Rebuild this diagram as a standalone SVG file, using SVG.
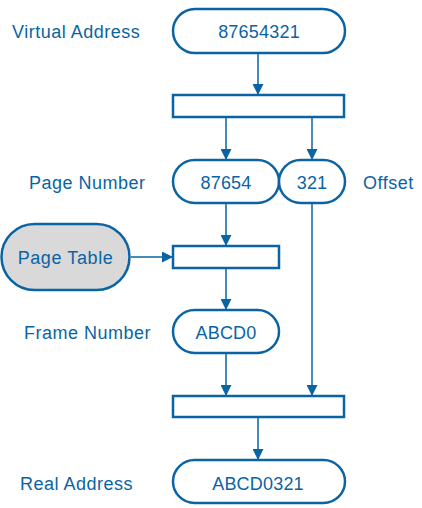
<svg xmlns="http://www.w3.org/2000/svg" width="422" height="508" viewBox="0 0 422 508">
<defs>
<marker id="ah" markerWidth="11" markerHeight="11" refX="10" refY="5.5" orient="auto" markerUnits="userSpaceOnUse">
<path d="M0,0 L11,5.5 L0,11 Z" fill="#0a64a4"/>
</marker>
<style>
.n{fill:#fff;stroke:#0a64a4;stroke-width:2.5}
.g{fill:#d9d9d9;stroke:#0a64a4;stroke-width:2.5}
.c{fill:none;stroke:#0a64a4;stroke-width:1.5;marker-end:url(#ah)}
text{font-family:"Liberation Sans",Arial,sans-serif;font-size:18px;fill:#0a64a4;letter-spacing:0.5px}
.m{text-anchor:middle}
</style>
</defs>
<rect width="422" height="508" fill="#fff"/>
<g id="labels">
<text x="12" y="38">Virtual Address</text>
<text x="29" y="189">Page Number</text>
<text x="363" y="189">Offset</text>
<text x="24" y="339">Frame Number</text>
<text x="20" y="490">Real Address</text>
</g>
<g id="virtual"><rect class="n" x="173" y="9" width="172" height="44" rx="22"/><text class="m" x="259" y="38" style="letter-spacing:0.2px">87654321</text></g>
<g id="bar1"><rect class="n" x="173" y="95" width="171" height="22"/></g>
<g id="page"><rect class="n" x="173" y="160" width="106" height="43" rx="21.5"/><text class="m" x="226" y="189" style="letter-spacing:0.2px">87654</text></g>
<g id="offset"><rect class="n" x="279" y="160" width="66" height="43" rx="21.5"/><text class="m" x="312" y="189" style="letter-spacing:0.2px">321</text></g>
<g id="pagetable"><rect class="g" x="1.5" y="224" width="128" height="66" rx="33"/><text class="m" x="65.5" y="264" style="letter-spacing:0.6px">Page Table</text></g>
<g id="bar2"><rect class="n" x="173" y="246" width="106" height="22"/></g>
<g id="frame"><rect class="n" x="173" y="310" width="106" height="43" rx="21.5"/><text class="m" x="226" y="339" style="letter-spacing:0.2px">ABCD0</text></g>
<g id="bar3"><rect class="n" x="173" y="396" width="171" height="21"/></g>
<g id="real"><rect class="n" x="173" y="460" width="172" height="43" rx="21.5"/><text class="m" x="258" y="490" style="letter-spacing:0.2px">ABCD0321</text></g>
<g id="connectors">
<line class="c" x1="258" y1="54" x2="258" y2="94"/>
<line class="c" x1="226" y1="118" x2="226" y2="159"/>
<line class="c" x1="312" y1="118" x2="312" y2="159"/>
<line class="c" x1="226" y1="204" x2="226" y2="245"/>
<line class="c" x1="131" y1="257" x2="172" y2="257"/>
<line class="c" x1="226" y1="269" x2="226" y2="309"/>
<line class="c" x1="226" y1="354" x2="226" y2="395"/>
<line class="c" x1="312" y1="204" x2="312" y2="395"/>
<line class="c" x1="258" y1="418" x2="258" y2="459"/>
</g>
</svg>
